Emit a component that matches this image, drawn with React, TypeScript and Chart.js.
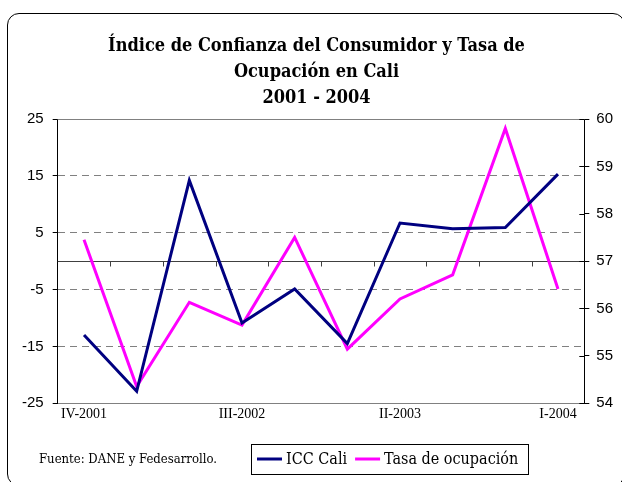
import React, { useEffect, useRef } from "react";
import { Chart, registerables } from "chart.js";

Chart.register(...registerables);

const categories = ["IV-2001", "I-2002", "II-2002", "III-2002", "IV-2002", "I-2003", "II-2003", "III-2003", "IV-2003", "I-2004"];
const iccCali = [-13.0, -22.9, 14.2, -10.9, -4.9, -14.5, 6.7, 5.7, 5.9, 15.3];
const tasaOcupacion = [57.45, 54.35, 56.13, 55.65, 57.5, 55.14, 56.2, 56.71, 59.8, 56.41];
const titleLines = ["Índice de Confianza del Consumidor y Tasa de", "Ocupación en Cali", "2001 - 2004"];
const seriesNames = ["ICC Cali", "Tasa de ocupación"];
const sourceNote = "Fuente: DANE y Fedesarrollo.";
const leftAxis = { min: -25, max: 25, step: 10 };
const rightAxis = { min: 54, max: 60, step: 1 };
const labelEvery = 3;

const SERIF = "'Liberation Serif', 'Times New Roman', serif";
const SANS = "'Liberation Sans', Arial, sans-serif";
const COND = "'DejaVu Serif Condensed', 'Liberation Serif', serif";
const DJS = "'DejaVu Serif', 'Liberation Serif', serif";

const decor = {
  id: "decor",
  beforeDatasetsDraw(chart: any) {
    const { ctx, chartArea: ca, scales } = chart;
    const y = scales.y;
    const x = scales.x;
    const y1 = scales.y1;
    ctx.save();
    ctx.lineWidth = 1;
    const yt = Math.round(y.getPixelForValue(leftAxis.max)) + 0.5;
    ctx.strokeStyle = "#808080";
    ctx.beginPath();
    ctx.moveTo(ca.left, yt);
    ctx.lineTo(ca.right, yt);
    ctx.stroke();
    const z = Math.round(y.getPixelForValue(0)) + 0.5;
    ctx.strokeStyle = "#404040";
    ctx.beginPath();
    ctx.moveTo(ca.left, z);
    ctx.lineTo(ca.right, z);
    for (let i = 1; i < categories.length; i++) {
      const bx = Math.round((x.getPixelForValue(i - 1) + x.getPixelForValue(i)) / 2) + 0.5;
      ctx.moveTo(bx, z);
      ctx.lineTo(bx, z + 5);
    }
    ctx.stroke();
    ctx.strokeStyle = "#000";
    ctx.beginPath();
    for (let v = rightAxis.min; v <= rightAxis.max; v += rightAxis.step) {
      const yy = Math.round(y1.getPixelForValue(v)) + 0.5;
      ctx.moveTo(ca.right - 5, yy);
      ctx.lineTo(ca.right, yy);
    }
    ctx.stroke();
    ctx.restore();
  },
  afterDraw(chart: any) {
    const { ctx } = chart;
    const ds = chart.data.datasets;
    ctx.save();
    ctx.fillStyle = "#000";
    ctx.font = `13px ${DJS}`;
    (ctx as any).fontStretch = "condensed";
    ctx.textAlign = "left";
    ctx.textBaseline = "middle";
    ctx.fillText(sourceNote, 39, 460);
    ctx.font = `16px ${DJS}`;
    (ctx as any).fontStretch = "condensed";
    const sample = 25;
    const gap = 4;
    const itemGap = 8;
    const pad = 8;
    const widths = ds.map((d: any) => ctx.measureText(d.label).width);
    let total = pad * 2;
    widths.forEach((w: number, i: number) => {
      total += sample + gap + w + (i < widths.length - 1 ? itemGap : 0);
    });
    const cx = 389.5;
    const cy = 459;
    const h = 30;
    const left = Math.round(cx - total / 2);
    ctx.strokeStyle = "#000";
    ctx.lineWidth = 1;
    ctx.strokeRect(left + 0.5, Math.round(cy - h / 2) + 0.5, Math.round(total), h);
    let px = left + pad - 2;
    ds.forEach((d: any, i: number) => {
      ctx.strokeStyle = d.borderColor;
      ctx.lineWidth = 3;
      ctx.beginPath();
      ctx.moveTo(px, cy);
      ctx.lineTo(px + sample, cy);
      ctx.stroke();
      px += sample + gap;
      ctx.fillStyle = "#000";
      ctx.fillText(d.label, px, cy + 1);
      px += widths[i] + itemGap;
    });
    ctx.restore();
  },
};

export default function App() {
  const ref = useRef<HTMLCanvasElement | null>(null);
  useEffect(() => {
    if (!ref.current) return;
    const chart = new Chart(ref.current, {
      type: "line",
      data: {
        labels: categories,
        datasets: [
          {
            label: seriesNames[0],
            data: iccCali,
            yAxisID: "y",
            borderColor: "#000080",
            backgroundColor: "#000080",
            borderWidth: 3,
            pointRadius: 0,
            tension: 0,
          },
          {
            label: seriesNames[1],
            data: tasaOcupacion,
            yAxisID: "y1",
            borderColor: "#FF00FF",
            backgroundColor: "#FF00FF",
            borderWidth: 3,
            pointRadius: 0,
            tension: 0,
          },
        ],
      },
      plugins: [decor],
      options: {
        responsive: false,
        animation: false,
        events: [],
        layout: { padding: { left: 13, right: 2, top: 33, bottom: 56 } },
        plugins: {
          legend: { display: false },
          tooltip: { enabled: false },
          title: {
            display: true,
            text: titleLines,
            color: "#000",
            font: { family: COND, size: 18, weight: "bold", lineHeight: 26 / 18 },
            padding: { top: 0, bottom: 8 },
          },
        },
        scales: {
          x: {
            type: "category",
            offset: true,
            grid: { display: false, drawTicks: false },
            border: { display: true, color: "#808080", width: 1 },
            ticks: {
              autoSkip: false,
              maxRotation: 0,
              padding: 3,
              color: "#000",
              font: { family: SERIF, size: 14 },
              callback: (_v: any, i: number) => (i % labelEvery === 0 ? categories[i] : ""),
            },
          },
          y: {
            position: "left",
            min: leftAxis.min,
            max: leftAxis.max,
            grid: {
              color: (c: any) =>
                c.tick && c.tick.value > leftAxis.min && c.tick.value < leftAxis.max ? "#808080" : "rgba(0,0,0,0)",
              tickColor: "#000",
              tickLength: 5,
            },
            border: { display: true, color: "#000", width: 1, dash: [7, 5] },
            ticks: {
              stepSize: leftAxis.step,
              padding: 9,
              color: "#000",
              font: { family: SANS, size: 15 },
            },
          },
          y1: {
            position: "right",
            min: rightAxis.min,
            max: rightAxis.max,
            grid: { drawOnChartArea: false, tickColor: "#000", tickLength: 5 },
            border: { display: true, color: "#000", width: 1 },
            ticks: {
              stepSize: rightAxis.step,
              padding: 7,
              color: "#000",
              font: { family: SANS, size: 15 },
            },
          },
        },
      },
    } as any);
    return () => chart.destroy();
  }, []);

  return (
    <div
      style={{
        position: "absolute",
        left: 0,
        top: 0,
        width: 622,
        height: 482,
        overflow: "hidden",
        background: "#fff",
      }}
    >
      <div
        style={{
          position: "absolute",
          left: 7,
          top: 13,
          width: 618,
          height: 473,
          boxSizing: "border-box",
          border: "1.5px solid #000",
          borderRadius: 12,
        }}
      />
      <canvas ref={ref} width={622} height={482} style={{ position: "absolute", left: 0, top: 0, display: "block" }} />
    </div>
  );
}
